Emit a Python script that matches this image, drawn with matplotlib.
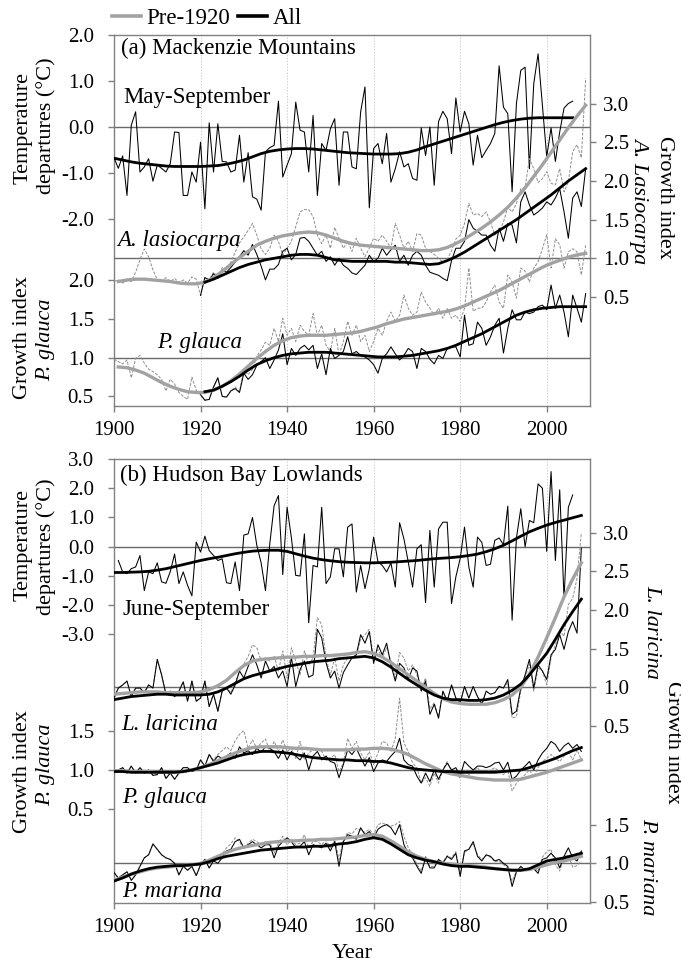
import numpy as np
import matplotlib
matplotlib.use('Agg')
import matplotlib.pyplot as plt
from matplotlib.lines import Line2D

# ---------------------------------------------------------------------------
# Data: annual series (thin lines) and smoothed curves (thick lines)
# ---------------------------------------------------------------------------

# (a) Mackenzie Mountains, May-September temperature departures, 1900-2006
TEMP_A = [-0.67, -0.90, -0.63, -1.49, 0.04, 0.33, -0.98, -0.87, -0.69, -1.18,
          -0.83, -0.90, -0.98, -0.80, -0.11, -0.12, -1.49, -1.49, -0.98, -1.20,
          -0.33, -1.78, 0.09, -0.98, 0.07, -0.75, -0.76, -0.98, -0.94, -0.18,
          -1.20, -0.56, -1.52, -1.57, -1.81, -0.54, -0.45, -0.40, 0.56, -1.09,
          -0.83, -0.58, 0.54, -0.07, -0.11, -0.98, 0.25, -1.49, -0.36, -0.51,
          -0.04, 0.18, -1.27, -0.11, -0.11, -0.87, -0.91, 0.33, 0.87, -1.76,
          -0.47, -0.36, -0.80, -0.14, -1.20, -0.91, -0.54, -0.87, -0.80, -1.12,
          -1.16, -0.02, -0.62, 0.00, -1.27, 0.12, 0.34, 0.18, -0.58, 0.63,
          -0.11, 0.34, 0.07, -0.83, -0.18, -0.67, -0.51, -0.36, -0.14, 1.33,
          0.43, 0.29, -1.41, 0.51, 1.23, 1.30, -0.91, 0.94, 1.59, 0.47,
          -0.65, -0.02, -0.75, -0.11, 0.41, 0.51, 0.56]
TEMP_A_START = 1900
# smoothed, every 2nd year from 1900
TEMP_A_SMOOTH = [-0.68, -0.72, -0.76, -0.79, -0.81, -0.83, -0.85, -0.86, -0.86, -0.86,
                 -0.86, -0.85, -0.84, -0.81, -0.77, -0.72, -0.65, -0.58, -0.53, -0.50,
                 -0.48, -0.47, -0.47, -0.48, -0.50, -0.52, -0.54, -0.56, -0.57, -0.58,
                 -0.59, -0.59, -0.59, -0.58, -0.55, -0.50, -0.43, -0.37, -0.31, -0.25,
                 -0.19, -0.13, -0.07, -0.01, 0.05, 0.10, 0.14, 0.17, 0.19, 0.20,
                 0.20, 0.20, 0.20, 0.20]
TEMP_A_SMOOTH_START = 1900

# (a) A. lasiocarpa growth index
ALAS_PRE = [0.70, 0.72, 0.68, 0.71, 0.70, 0.82, 0.98, 1.12, 1.02, 0.85,
            0.72, 0.70, 0.75, 0.70, 0.74, 0.69, 0.72, 0.68, 0.76, 0.73,
            0.52, 0.75, 0.72, 0.82, 0.76, 0.88, 0.86, 0.95, 1.08, 1.20,
            1.28, 1.36, 1.45, 1.30, 1.12, 1.05, 1.13, 1.30, 1.22, 1.04,
            1.13, 1.22, 1.41, 1.60, 1.63, 1.63, 1.54, 1.30, 1.19, 1.30,
            1.13, 1.40, 1.26, 1.13, 1.22, 1.09, 1.26, 1.13, 1.02, 1.13,
            1.26, 1.22, 1.30, 1.22, 1.13, 1.45, 1.30, 1.13, 1.22, 1.09,
            1.32, 1.30, 1.13, 1.09, 1.05, 1.00, 0.95, 0.98, 1.10, 1.25,
            1.30, 1.45, 1.71, 1.56, 1.58, 1.54, 1.60, 1.47, 1.30, 1.34,
            1.47, 1.66, 1.60, 1.71, 1.90, 1.92, 2.29, 2.16, 1.98, 2.03,
            2.12, 1.97, 1.95, 2.16, 1.86, 1.99, 2.38, 2.47, 2.30, 3.33]
ALAS_PRE_START = 1900
ALAS_ALL = [0.52, 0.75, 0.72, 0.80, 0.74, 0.85, 0.82, 0.88, 0.95, 1.02,
            1.10, 1.04, 1.18, 1.05, 0.90, 0.72, 0.86, 0.86, 0.92, 1.09,
            1.13, 0.98, 1.05, 1.26, 1.27, 1.22, 1.13, 1.04, 1.09, 0.96,
            1.02, 0.91, 1.00, 0.91, 0.87, 0.81, 0.79, 0.85, 0.91, 1.04,
            0.96, 1.00, 1.13, 1.04, 1.11, 1.17, 0.96, 1.04, 0.91, 1.04,
            1.09, 1.04, 0.91, 0.82, 0.80, 0.78, 0.74, 0.71, 0.97, 1.13,
            1.13, 1.22, 1.50, 1.39, 1.35, 1.30, 1.30, 1.17, 1.09, 1.39,
            1.22, 1.45, 1.43, 1.20, 1.73, 1.86, 1.69, 1.56, 1.60, 1.65,
            1.73, 1.69, 1.78, 1.90, 1.60, 1.26, 1.78, 1.86, 1.67, 2.16]
ALAS_ALL_START = 1920
ALAS_PRE_SMOOTH = [0.70, 0.72, 0.73, 0.73, 0.72, 0.71, 0.70, 0.68, 0.67, 0.67,
                   0.69, 0.75, 0.83, 0.92, 1.01, 1.09, 1.17, 1.22, 1.26, 1.29,
                   1.31, 1.33, 1.34, 1.33, 1.30, 1.26, 1.22, 1.19, 1.17, 1.16,
                   1.15, 1.14, 1.13, 1.12, 1.11, 1.10, 1.10, 1.11, 1.14, 1.19,
                   1.25, 1.32, 1.39, 1.47, 1.56, 1.66, 1.78, 1.91, 2.06, 2.21,
                   2.37, 2.53, 2.69, 2.84, 2.98]
ALAS_PRE_SMOOTH_START = 1901
ALAS_ALL_SMOOTH = [0.69, 0.73, 0.78, 0.83, 0.88, 0.92, 0.95, 0.98, 1.00, 1.02,
                   1.04, 1.05, 1.05, 1.04, 1.01, 0.98, 0.97, 0.96, 0.96, 0.96,
                   0.96, 0.96, 0.95, 0.95, 0.94, 0.93, 0.92, 0.93, 0.97, 1.02,
                   1.08, 1.15, 1.22, 1.29, 1.36, 1.43, 1.50, 1.58, 1.66, 1.74,
                   1.82, 1.91, 2.00, 2.08, 2.16]
ALAS_ALL_SMOOTH_START = 1921

# (a) P. glauca growth index
PGLA_PRE = [0.98, 0.95, 0.92, 0.97, 0.74, 0.99, 1.03, 0.93, 0.85, 0.82,
            0.78, 0.72, 0.57, 0.72, 0.66, 0.55, 0.50, 0.46, 0.75, 0.58,
            0.52, 0.45, 0.46, 0.62, 0.74, 0.50, 0.49, 0.57, 0.62, 0.56,
            0.84, 0.78, 0.85, 1.02, 1.10, 1.20, 1.16, 1.38, 1.21, 1.51,
            1.29, 1.38, 1.21, 1.42, 1.34, 1.29, 1.57, 1.29, 1.42, 1.16,
            1.08, 1.38, 1.03, 1.21, 1.47, 1.29, 1.42, 1.21, 1.29, 1.08,
            1.21, 1.38, 1.29, 1.47, 1.59, 1.47, 1.55, 1.81, 1.64, 1.55,
            1.59, 1.85, 1.72, 1.64, 1.55, 1.64, 1.51, 1.64, 1.51, 1.55,
            1.47, 1.64, 2.16, 1.60, 1.64, 1.64, 1.72, 1.85, 1.94, 1.72,
            1.64, 2.07, 1.98, 1.77, 2.16, 2.12, 1.98, 2.16, 2.24, 2.41,
            2.59, 2.16, 2.54, 2.46, 2.16, 2.37, 2.41, 2.37, 2.07, 2.46]
PGLA_PRE_START = 1900
PGLA_ALL = [0.52, 0.45, 0.46, 0.62, 0.74, 0.50, 0.49, 0.57, 0.60, 0.55,
            0.80, 0.72, 0.78, 0.90, 0.95, 1.00, 0.86, 0.97, 1.10, 1.31,
            0.91, 1.12, 1.03, 1.12, 1.16, 1.10, 1.16, 0.86, 1.05, 0.78,
            1.12, 0.99, 1.03, 1.08, 1.27, 1.05, 1.08, 1.03, 1.01, 0.97,
            0.91, 0.80, 0.99, 1.05, 1.14, 1.05, 0.97, 1.03, 1.12, 1.08,
            0.86, 1.12, 1.08, 0.98, 0.92, 1.03, 0.99, 1.12, 1.14, 1.14,
            1.01, 1.55, 1.16, 1.18, 1.46, 1.38, 1.16, 1.27, 1.42, 1.51,
            1.06, 1.38, 1.62, 1.49, 1.49, 1.59, 1.57, 1.59, 1.66, 1.68,
            1.62, 1.94, 1.64, 1.81, 1.59, 1.27, 1.81, 1.64, 1.46, 1.83]
PGLA_ALL_START = 1920
PGLA_PRE_SMOOTH = [0.88, 0.87, 0.84, 0.80, 0.74, 0.68, 0.63, 0.59, 0.56, 0.55,
                   0.55, 0.58, 0.63, 0.70, 0.79, 0.89, 0.99, 1.08, 1.16, 1.22,
                   1.26, 1.28, 1.29, 1.29, 1.29, 1.30, 1.31, 1.32, 1.34, 1.37,
                   1.40, 1.44, 1.47, 1.50, 1.52, 1.54, 1.56, 1.58, 1.60, 1.63,
                   1.67, 1.72, 1.77, 1.82, 1.87, 1.93, 1.99, 2.05, 2.11, 2.17,
                   2.22, 2.26, 2.30, 2.33, 2.35]
PGLA_PRE_SMOOTH_START = 1901
PGLA_ALL_SMOOTH = [0.56, 0.58, 0.63, 0.69, 0.76, 0.84, 0.91, 0.96, 1.00, 1.03,
                   1.05, 1.06, 1.07, 1.07, 1.07, 1.06, 1.05, 1.04, 1.03, 1.02,
                   1.01, 1.01, 1.01, 1.02, 1.03, 1.05, 1.07, 1.09, 1.12, 1.16,
                   1.21, 1.26, 1.31, 1.37, 1.43, 1.49, 1.55, 1.59, 1.62, 1.64,
                   1.65, 1.66, 1.66, 1.66, 1.66]
PGLA_ALL_SMOOTH_START = 1921

# (b) Hudson Bay Lowlands, June-September temperature departures, 1901-2006
TEMP_B = [-0.47, -0.86, -0.92, -0.75, -0.69, -0.30, -1.50, -0.86, -0.92,
          -0.55, -1.20, -1.25, -0.85, -0.25, -1.26, -0.86, -1.32, -1.68, 0.16,
          -0.18, 0.36, -0.13, -0.30, -0.47, -0.41, -1.23, -1.26, -0.52, -1.50,
          0.40, 0.44, 1.00, 0.05, -0.55, -1.50, 0.10, 1.40, 1.75, -0.95,
          1.35, 0.30, -0.98, -1.00, 0.44, -2.60, -0.64, -0.69, 1.35, -1.26,
          -1.03, -0.07, -0.07, -1.03, 0.67, 0.78, -1.55, -0.64, -1.43, -0.75,
          0.33, -0.52, -0.64, -0.86, -0.55, -1.38, 0.82, 0.27, -0.52, -1.38,
          -0.07, 0.07, -1.91, 0.56, -1.38, 0.61, 0.84, 0.84, -1.94, -1.03,
          -0.40, 0.67, -0.69, -1.38, 0.33, 0.15, -0.64, -0.60, 0.22, 0.30,
          0.07, 1.39, -2.51, 0.30, 1.30, 0.00, 0.90, 0.82, 2.15, 2.00,
          -0.16, 2.57, -0.47, 1.95, -1.77, 1.35, 1.77]
TEMP_B_START = 1901
TEMP_B_SMOOTH = [-0.88, -0.88, -0.87, -0.86, -0.84, -0.80, -0.75, -0.68, -0.61, -0.54,
                 -0.47, -0.41, -0.36, -0.30, -0.24, -0.19, -0.15, -0.13, -0.12, -0.12,
                 -0.16, -0.24, -0.32, -0.39, -0.44, -0.48, -0.51, -0.53, -0.54, -0.55,
                 -0.55, -0.54, -0.53, -0.51, -0.49, -0.47, -0.44, -0.41, -0.39, -0.37,
                 -0.34, -0.30, -0.25, -0.17, -0.07, 0.05, 0.20, 0.36, 0.51, 0.63,
                 0.74, 0.83, 0.91, 0.99, 1.07]
TEMP_B_SMOOTH_START = 1900

# (b) L. laricina growth index, 1900-2008
LLAR_ALL = [0.86, 0.99, 1.03, 1.08, 0.88, 0.99, 0.99, 0.93, 1.03, 0.99,
            1.36, 1.16, 0.91, 0.95, 0.88, 0.95, 1.07, 0.82, 1.08, 0.82,
            0.86, 1.08, 0.75, 0.91, 0.69, 0.95, 0.99, 0.91, 1.03, 1.21,
            1.12, 1.27, 1.42, 1.29, 1.12, 1.34, 1.21, 1.27, 1.12, 1.21,
            1.01, 1.39, 1.01, 1.23, 1.34, 1.13, 1.16, 1.75, 1.64, 1.32,
            1.12, 1.21, 0.99, 1.19, 1.29, 1.38, 1.42, 1.68, 1.57, 1.72,
            1.31, 1.55, 1.42, 1.57, 1.29, 1.08, 1.31, 1.25, 1.10, 1.25,
            1.21, 0.95, 1.08, 0.65, 0.78, 0.60, 0.95, 0.82, 1.03, 0.86,
            0.80, 1.01, 0.86, 1.01, 0.88, 0.78, 0.95, 0.91, 0.93, 1.01,
            0.99, 1.10, 0.65, 0.69, 0.99, 1.16, 1.36, 0.99, 1.29, 1.21,
            1.10, 1.42, 1.49, 1.68, 1.49, 1.72, 1.85, 1.70, 2.80]
LLAR_PRE = [0.86, 0.99, 1.03, 1.08, 0.88, 0.99, 0.99, 0.93, 1.03, 0.99,
            1.36, 1.16, 0.91, 0.95, 0.88, 0.95, 1.07, 0.82, 1.08, 0.82,
            0.86, 1.08, 0.75, 0.91, 0.69, 0.95, 1.00, 0.93, 1.06, 1.21,
            1.30, 1.40, 1.55, 1.51, 1.34, 1.38, 1.34, 1.40, 1.21, 1.47,
            1.12, 1.51, 1.34, 1.16, 1.47, 1.29, 1.38, 1.90, 1.81, 1.38,
            1.16, 1.38, 1.08, 1.29, 1.38, 1.38, 1.42, 1.62, 1.68, 1.75,
            1.38, 1.49, 1.38, 1.51, 1.34, 1.12, 1.45, 1.38, 1.21, 1.29,
            1.16, 0.99, 1.12, 0.72, 0.80, 0.62, 0.95, 0.82, 1.03, 0.86,
            0.80, 1.01, 0.86, 1.01, 0.88, 0.78, 0.95, 0.91, 0.93, 1.01,
            0.99, 1.06, 0.60, 0.62, 0.95, 1.12, 1.30, 0.95, 1.25, 1.21,
            1.03, 1.38, 1.55, 1.73, 1.66, 2.07, 2.15, 2.41, 3.00]
LLAR_START = 1900
LLAR_PRE_SMOOTH = [0.91, 0.92, 0.93, 0.94, 0.94, 0.94, 0.93, 0.93, 0.93, 0.93,
                   0.94, 0.97, 1.02, 1.09, 1.19, 1.28, 1.34, 1.36, 1.37, 1.38,
                   1.39, 1.39, 1.40, 1.40, 1.41, 1.41, 1.42, 1.43, 1.45, 1.46,
                   1.44, 1.39, 1.32, 1.24, 1.16, 1.08, 1.00, 0.92, 0.85, 0.81,
                   0.79, 0.78, 0.78, 0.78, 0.80, 0.84, 0.90, 1.00, 1.17, 1.39,
                   1.64, 1.90, 2.17, 2.40, 2.61]
LLAR_ALL_SMOOTH = [0.84, 0.86, 0.88, 0.89, 0.90, 0.91, 0.91, 0.90, 0.90, 0.90,
                   0.90, 0.91, 0.94, 0.99, 1.05, 1.11, 1.15, 1.18, 1.21, 1.24,
                   1.27, 1.29, 1.31, 1.33, 1.34, 1.35, 1.37, 1.38, 1.39, 1.40,
                   1.38, 1.33, 1.26, 1.18, 1.10, 1.03, 0.96, 0.90, 0.86, 0.84,
                   0.84, 0.83, 0.83, 0.84, 0.86, 0.90, 0.96, 1.04, 1.16, 1.30,
                   1.44, 1.62, 1.81, 1.98, 2.14]

# (b) P. glauca growth index, 1900-2008
PGLB_ALL = [0.99, 1.00, 1.03, 0.96, 1.05, 0.96, 1.03, 0.96, 1.00, 0.93,
            0.94, 1.03, 0.89, 0.96, 0.88, 0.96, 1.03, 1.03, 0.98, 1.00,
            1.13, 1.05, 1.20, 1.11, 1.18, 1.15, 1.18, 1.22, 1.15, 1.30,
            1.22, 1.25, 1.20, 1.28, 1.23, 1.30, 1.28, 1.24, 1.15, 1.26,
            1.13, 1.24, 1.18, 1.13, 1.22, 1.00, 1.18, 1.24, 1.13, 1.18,
            1.11, 1.09, 0.90, 1.07, 1.26, 1.20, 1.28, 1.16, 1.05, 1.16,
            0.98, 1.09, 1.13, 1.11, 1.18, 1.24, 1.41, 1.13, 1.07, 1.05,
            0.92, 0.83, 0.96, 0.85, 1.00, 0.88, 1.00, 1.09, 1.00, 1.03,
            0.92, 1.11, 1.05, 1.00, 1.05, 1.05, 1.03, 1.05, 1.09, 1.10,
            1.00, 1.10, 0.88, 0.92, 1.00, 1.05, 1.11, 1.00, 1.13, 1.22,
            1.28, 1.37, 1.33, 1.24, 1.31, 1.35, 1.28, 1.33, 1.24]
PGLB_PRE = [0.99, 1.00, 1.03, 0.96, 1.05, 0.96, 1.03, 0.96, 1.00, 0.93,
            0.94, 1.03, 0.89, 0.96, 0.88, 0.96, 1.03, 1.03, 0.98, 1.00,
            1.13, 1.05, 1.20, 1.13, 1.20, 1.25, 1.30, 1.25, 1.38, 1.46,
            1.51, 1.28, 1.39, 1.28, 1.35, 1.40, 1.24, 1.37, 1.24, 1.39,
            1.24, 1.28, 1.15, 1.37, 1.13, 1.22, 1.26, 1.28, 1.24, 1.13,
            1.15, 1.20, 0.98, 1.09, 1.41, 1.28, 1.37, 1.22, 1.13, 1.24,
            1.07, 1.22, 1.37, 1.35, 1.24, 1.41, 1.93, 1.35, 1.24, 1.09,
            1.03, 0.83, 0.90, 0.79, 0.96, 0.83, 1.00, 1.11, 0.98, 0.96,
            0.89, 1.00, 0.94, 0.98, 1.03, 0.96, 0.98, 1.00, 1.03, 0.98,
            0.94, 1.00, 0.73, 0.83, 0.89, 0.94, 1.00, 0.91, 1.03, 1.11,
            1.15, 1.20, 1.15, 1.11, 1.18, 1.24, 1.13, 1.26, 1.13]
PGLB_START = 1900
PGLB_PRE_SMOOTH = [0.99, 0.99, 0.98, 0.98, 0.98, 0.97, 0.97, 0.97, 0.98, 1.00,
                   1.03, 1.07, 1.12, 1.17, 1.22, 1.26, 1.29, 1.30, 1.30, 1.30,
                   1.29, 1.28, 1.28, 1.27, 1.26, 1.26, 1.26, 1.26, 1.27, 1.27,
                   1.28, 1.28, 1.27, 1.24, 1.20, 1.14, 1.08, 1.03, 0.98, 0.95,
                   0.93, 0.91, 0.89, 0.88, 0.87, 0.87, 0.87, 0.88, 0.91, 0.94,
                   0.97, 1.01, 1.05, 1.09, 1.13]
PGLB_ALL_SMOOTH = [0.98, 0.98, 0.97, 0.97, 0.97, 0.97, 0.97, 0.97, 0.98, 1.00,
                   1.03, 1.06, 1.09, 1.13, 1.17, 1.20, 1.22, 1.24, 1.24, 1.23,
                   1.22, 1.20, 1.18, 1.16, 1.15, 1.14, 1.13, 1.13, 1.12, 1.12,
                   1.11, 1.11, 1.09, 1.06, 1.03, 1.01, 1.00, 0.99, 0.98, 0.98,
                   0.97, 0.97, 0.97, 0.97, 0.97, 0.98, 0.99, 1.00, 1.03, 1.07,
                   1.11, 1.15, 1.20, 1.25, 1.29]

# (b) P. mariana growth index, 1900-2008
PMAR_ALL = [0.88, 0.81, 0.85, 0.89, 0.78, 0.85, 0.96, 1.07, 1.11, 1.25,
            1.18, 1.11, 1.07, 1.05, 1.00, 0.85, 0.96, 0.91, 0.96, 0.84,
            0.98, 1.05, 0.94, 1.03, 1.00, 1.07, 1.16, 1.18, 1.28, 1.31,
            1.20, 1.24, 1.28, 1.24, 1.20, 1.24, 1.24, 1.07, 1.22, 1.28,
            1.33, 1.28, 1.20, 1.22, 1.28, 1.11, 1.24, 1.22, 1.20, 1.26,
            1.16, 1.28, 0.96, 1.28, 1.37, 1.35, 1.31, 1.46, 1.37, 1.41,
            1.33, 1.44, 1.48, 1.50, 1.46, 1.37, 1.50, 1.24, 1.13, 1.07,
            0.96, 0.87, 1.07, 0.94, 0.94, 1.05, 1.00, 1.09, 1.05, 1.13,
            0.83, 1.16, 1.18, 1.28, 1.09, 1.03, 1.11, 1.09, 1.03, 1.05,
            1.00, 0.96, 0.70, 0.89, 0.96, 0.91, 0.93, 0.93, 0.87, 1.05,
            1.07, 1.13, 1.07, 0.94, 1.09, 1.20, 1.07, 1.03, 1.16]
PMAR_PRE = [0.88, 0.81, 0.85, 0.89, 0.78, 0.85, 0.96, 1.07, 1.11, 1.25,
            1.18, 1.11, 1.07, 1.05, 1.00, 0.85, 0.96, 0.91, 0.96, 0.84,
            0.98, 1.05, 0.94, 1.03, 1.05, 1.12, 1.20, 1.25, 1.33, 1.28,
            1.18, 1.26, 1.31, 1.28, 1.24, 1.28, 1.27, 1.13, 1.26, 1.35,
            1.24, 1.30, 1.24, 1.26, 1.37, 1.20, 1.28, 1.28, 1.24, 1.30,
            1.20, 1.31, 1.05, 1.30, 1.40, 1.38, 1.45, 1.43, 1.40, 1.44,
            1.37, 1.50, 1.52, 1.50, 1.48, 1.50, 1.54, 1.35, 1.20, 1.11,
            0.99, 0.90, 1.09, 0.96, 0.96, 1.05, 1.02, 1.10, 1.07, 1.15,
            0.88, 1.14, 1.18, 1.26, 1.11, 1.05, 1.10, 1.08, 1.02, 1.03,
            0.98, 0.94, 0.77, 0.90, 0.95, 0.92, 0.92, 0.94, 0.90, 1.08,
            1.15, 1.18, 0.98, 0.90, 1.09, 1.10, 0.95, 0.97, 1.03]
PMAR_START = 1900
PMAR_PRE_SMOOTH = [0.78, 0.82, 0.86, 0.89, 0.92, 0.94, 0.95, 0.96, 0.97, 0.98,
                   1.00, 1.04, 1.09, 1.14, 1.18, 1.21, 1.23, 1.25, 1.27, 1.28,
                   1.29, 1.29, 1.30, 1.30, 1.31, 1.31, 1.32, 1.33, 1.34, 1.36,
                   1.37, 1.35, 1.29, 1.22, 1.15, 1.09, 1.05, 1.02, 1.00, 0.99,
                   0.98, 0.97, 0.96, 0.95, 0.93, 0.92, 0.91, 0.91, 0.92, 0.95,
                   0.98, 1.01, 1.03, 1.06, 1.09]
PMAR_ALL_SMOOTH = [0.77, 0.81, 0.86, 0.90, 0.93, 0.95, 0.96, 0.97, 0.97, 0.98,
                   0.99, 1.02, 1.06, 1.09, 1.11, 1.13, 1.15, 1.17, 1.18, 1.19,
                   1.20, 1.21, 1.21, 1.22, 1.22, 1.23, 1.25, 1.26, 1.28, 1.31,
                   1.33, 1.31, 1.25, 1.18, 1.11, 1.07, 1.04, 1.02, 0.99, 0.97,
                   0.96, 0.96, 0.95, 0.94, 0.93, 0.92, 0.91, 0.91, 0.93, 0.98,
                   1.03, 1.05, 1.07, 1.10, 1.13]
B_SMOOTH_START = 1900

YEAR_TICKS = [1900, 1920, 1940, 1960, 1980, 2000]
GRID_YEARS = [1920, 1940, 1960, 1980, 2000]

# ---------------------------------------------------------------------------
# Styling
# ---------------------------------------------------------------------------

W, H = 681, 966
AX_COLOR   = '#808080'
GRID_COLOR = '#cfcfcf'
REF_COLOR  = '#6a6a6a'
PRE_SMOOTH = '#a2a2a2'
PRE_THIN   = '#8e8e8e'
TICK_FS    = 15
TEXT_FS    = 16.5
LABEL_FS   = 16

plt.rcParams['font.family'] = ['Liberation Serif', 'DejaVu Serif']
plt.rcParams['mathtext.fontset'] = 'stix'


def years(start, vals, step=1):
    return start + step * np.arange(len(vals))


def rect(left, top, right, bottom):
    """Pixel box -> figure fraction [x0, y0, w, h]."""
    return [left / W, 1 - bottom / H, (right - left) / W, (bottom - top) / H]


def fig_xy(x, y):
    return x / W, 1 - y / H


def y_ticks(ax, ticks, side):
    ax.set_yticks(ticks)
    ax.set_yticklabels([f'{t:.1f}' for t in ticks])
    left = side == 'left'
    ax.tick_params(axis='y', direction='out', length=4, width=1,
                   color=AX_COLOR, labelsize=TICK_FS,
                   pad=10.5 if left else 5.5,
                   left=left, labelleft=left,
                   right=not left, labelright=not left)


def overlay(fig, base, ylim, ticks, side):
    """Extra y scale sharing the panel box and year axis."""
    ax = fig.add_axes(base.get_position(), sharex=base, label=f'ov{id(ylim)}')
    ax.patch.set_visible(False)
    for s in ax.spines.values():
        s.set_visible(False)
    ax.set_ylim(*ylim)
    ax.tick_params(axis='x', bottom=False, labelbottom=False,
                   top=False, labeltop=False)
    y_ticks(ax, ticks, side)
    return ax


def make_panel(fig, box, temp_ylim, temp_ticks):
    ax = fig.add_axes(rect(*box))
    ax.set_xlim(1900, 2010)
    ax.set_ylim(*temp_ylim)
    for s in ax.spines.values():
        s.set_color(AX_COLOR)
        s.set_linewidth(1.0)
    ax.set_xticks(YEAR_TICKS)
    ax.set_xticklabels([str(y) for y in YEAR_TICKS])
    ax.tick_params(axis='x', direction='out', length=4, width=1,
                   color=AX_COLOR, labelsize=TICK_FS, pad=7)
    y_ticks(ax, temp_ticks, 'left')
    for yr in GRID_YEARS:
        ax.axvline(yr, color=GRID_COLOR, lw=0.7, ls=(0, (1.5, 1.5)), zorder=0)
    ax.axhline(0.0, color=REF_COLOR, lw=1.0, zorder=1)
    return ax


def draw_temp(ax, vals, start, smooth, s_start):
    ax.plot(years(start, vals), vals, color='black', lw=0.75, zorder=3)
    ax.plot(years(s_start, smooth, 2), smooth, color='black', lw=2.0, zorder=5)


def draw_growth(ax, pre, pre_start, full, full_start,
                pre_s, pre_s_start, full_s, full_s_start):
    ax.axhline(1.0, color=REF_COLOR, lw=1.0, zorder=1)
    ax.plot(years(pre_start, pre), pre, color=PRE_THIN, lw=0.7,
            dashes=(3, 1.5), zorder=2)
    ax.plot(years(full_start, full), full, color='black', lw=0.75, zorder=3)
    ax.plot(years(pre_s_start, pre_s, 2), pre_s, color=PRE_SMOOTH, lw=2.4,
            zorder=4)
    ax.plot(years(full_s_start, full_s, 2), full_s, color='black', lw=2.0,
            zorder=5)


def panel_text(ax, x, y, s, italic=False):
    ax.text(x, y, s, transform=ax.transAxes, fontsize=TEXT_FS,
            style='italic' if italic else 'normal', ha='left', va='center',
            zorder=10)


def side_label(fig, x, y, s, rot, italic=False):
    fx, fy = fig_xy(x, y)
    fig.text(fx, fy, s, rotation=rot, ha='center', va='center',
             fontsize=LABEL_FS, style='italic' if italic else 'normal')


fig = plt.figure(figsize=(W / 100, H / 100), dpi=100)

# --- (a) Mackenzie Mountains ---
ax_a = make_panel(fig, (114, 35, 590, 406), (-6.07, 2.0), [-2, -1, 0, 1, 2])
draw_temp(ax_a, TEMP_A, TEMP_A_START, TEMP_A_SMOOTH, TEMP_A_SMOOTH_START)

ax_al = overlay(fig, ax_a, (-0.911, 3.889), [0.5, 1.0, 1.5, 2.0, 2.5, 3.0], 'right')
draw_growth(ax_al, ALAS_PRE, ALAS_PRE_START, ALAS_ALL, ALAS_ALL_START,
            ALAS_PRE_SMOOTH, ALAS_PRE_SMOOTH_START,
            ALAS_ALL_SMOOTH, ALAS_ALL_SMOOTH_START)

ax_pa = overlay(fig, ax_a, (0.375, 5.175), [0.5, 1.0, 1.5, 2.0], 'left')
draw_growth(ax_pa, PGLA_PRE, PGLA_PRE_START, PGLA_ALL, PGLA_ALL_START,
            PGLA_PRE_SMOOTH, PGLA_PRE_SMOOTH_START,
            PGLA_ALL_SMOOTH, PGLA_ALL_SMOOTH_START)

panel_text(ax_pa, 0.014, 0.963, '(a) Mackenzie Mountains')
panel_text(ax_pa, 0.019, 0.832, 'May-September')
panel_text(ax_pa, 0.006, 0.447, 'A. lasiocarpa', italic=True)
panel_text(ax_pa, 0.090, 0.170, 'P. glauca', italic=True)

# --- (b) Hudson Bay Lowlands ---
ax_b = make_panel(fig, (114, 459, 590, 902.7), (-12.17, 3.0),
                  [-3, -2, -1, 0, 1, 2, 3])
draw_temp(ax_b, TEMP_B, TEMP_B_START, TEMP_B_SMOOTH, TEMP_B_SMOOTH_START)

ax_ll = overlay(fig, ax_b, (-1.787, 3.953), [0.5, 1.0, 1.5, 2.0, 2.5, 3.0], 'right')
draw_growth(ax_ll, LLAR_PRE, LLAR_START, LLAR_ALL, LLAR_START,
            LLAR_PRE_SMOOTH, B_SMOOTH_START, LLAR_ALL_SMOOTH, B_SMOOTH_START)

ax_pb = overlay(fig, ax_b, (-0.717, 5.023), [0.5, 1.0, 1.5], 'left')
draw_growth(ax_pb, PGLB_PRE, PGLB_START, PGLB_ALL, PGLB_START,
            PGLB_PRE_SMOOTH, B_SMOOTH_START, PGLB_ALL_SMOOTH, B_SMOOTH_START)

ax_pm = overlay(fig, ax_b, (0.490, 6.230), [0.5, 1.0, 1.5], 'right')
draw_growth(ax_pm, PMAR_PRE, PMAR_START, PMAR_ALL, PMAR_START,
            PMAR_PRE_SMOOTH, B_SMOOTH_START, PMAR_ALL_SMOOTH, B_SMOOTH_START)

panel_text(ax_pm, 0.012, 0.963, '(b) Hudson Bay Lowlands')
panel_text(ax_pm, 0.018, 0.660, 'June-September')
panel_text(ax_pm, 0.016, 0.401, 'L. laricina', italic=True)
panel_text(ax_pm, 0.018, 0.236, 'P. glauca', italic=True)
panel_text(ax_pm, 0.018, 0.026, 'P. mariana', italic=True)

# --- axis titles ---
side_label(fig, 23, 128, 'Temperature', 90)
side_label(fig, 46, 126, 'departures (°C)', 90)
side_label(fig, 23, 338, 'Growth index', 90)
side_label(fig, 46, 340, 'P. glauca', 90, italic=True)
side_label(fig, 665, 197, 'Growth index', 270)
side_label(fig, 640, 200, 'A. Lasiocarpa', 270, italic=True)

side_label(fig, 23, 545, 'Temperature', 90)
side_label(fig, 46, 547, 'departures (°C)', 90)
side_label(fig, 23, 772, 'Growth index', 90)
side_label(fig, 46, 765, 'P. glauca', 90, italic=True)
side_label(fig, 652, 632, 'L. laricina', 270, italic=True)
side_label(fig, 672, 742, 'Growth index', 270)
side_label(fig, 648, 867, 'P. mariana', 270, italic=True)

fx, fy = fig_xy(352, 953)
fig.text(fx, fy, 'Year', ha='center', va='center', fontsize=LABEL_FS)

# --- legend ---
handles = [Line2D([], [], color=PRE_SMOOTH, lw=2.6),
           Line2D([], [], color='black', lw=2.6)]
lx, ly = fig_xy(112, 18)
fig.legend(handles, ['Pre-1920', 'All'], loc='center left',
           bbox_to_anchor=(lx, ly), ncol=2, frameon=False, fontsize=TEXT_FS,
           handlelength=1.25, handletextpad=0.25, columnspacing=0.35,
           borderpad=0, borderaxespad=0)

fig.savefig('out.png', dpi=100)
